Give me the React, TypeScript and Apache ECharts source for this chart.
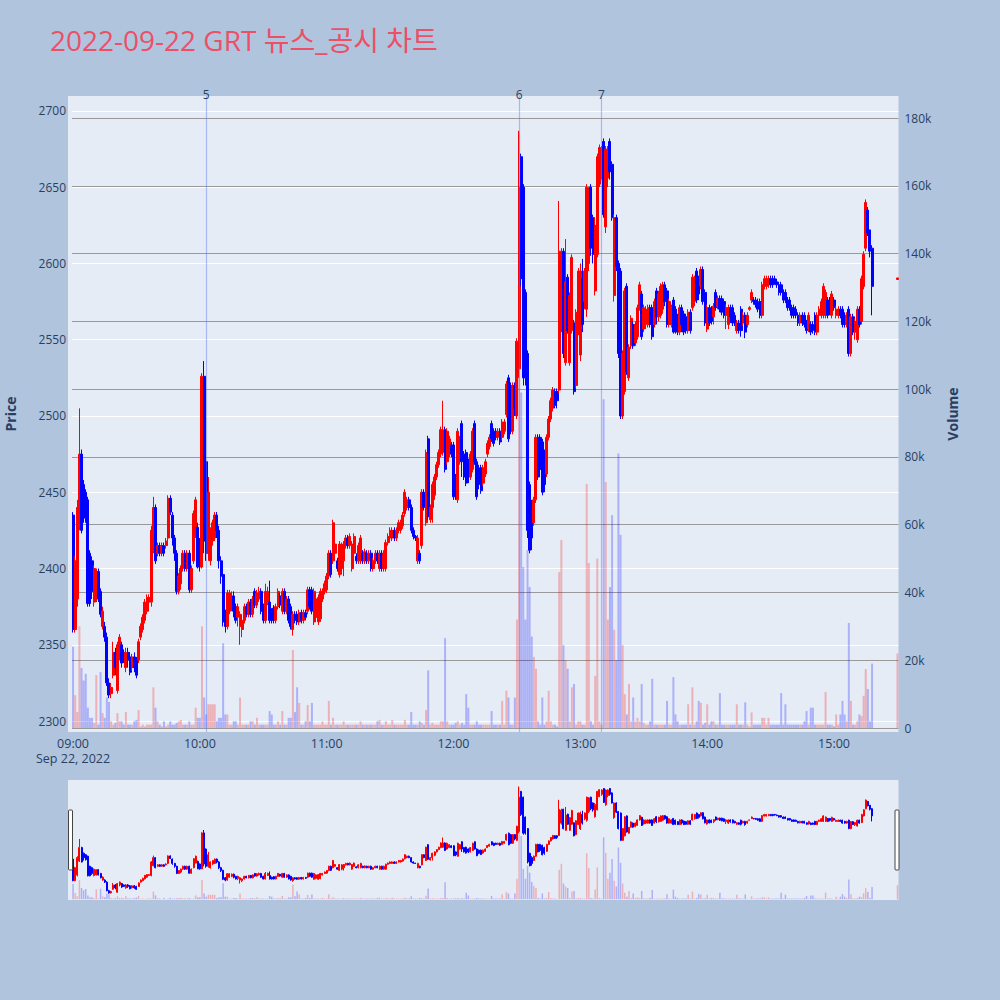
import React, { useEffect, useRef } from "react";
import * as echarts from "echarts";

const TITLE = "2022-09-22 GRT 뉴스_공시 차트";
const DATE_LABEL = "Sep 22, 2022";
const SESSION_START = "09:00";
const SESSION_END = "15:30";

// one row per minute from 09:00: [open, close, low, high, volume (k)]
const h09 = [
  [2435,2360,2358,2437,24],[2360,2405,2358,2408,9.7],[2380,2440,2375,2445,4.7],[2428,2475,2425,2505,30],[2475,2425,2423,2478,17.7],
  [2455,2440,2430,2458,14],[2450,2433,2430,2452,16],[2445,2377,2375,2447,6],[2410,2377,2375,2412,3],[2405,2385,2380,2408,3],
  [2378,2400,2375,2402,1.5],[2380,2398,2378,2400,15.6],[2398,2380,2378,2400,1],[2385,2370,2368,2387,16.5],[2362,2372,2360,2375,4.4],
  [2362,2355,2352,2365,3],[2355,2325,2323,2358,9],[2325,2317,2315,2328,7.7],[2318,2322,2315,2325,2],[2330,2345,2328,2352,1],
  [2345,2335,2330,2348,1.5],[2320,2350,2318,2352,4.4],[2345,2355,2340,2357,2],[2350,2338,2335,2352,2],[2345,2340,2338,2347,1],
  [2335,2345,2332,2348,4.7],[2345,2340,2335,2348,1],[2342,2332,2330,2345,1],[2335,2342,2333,2344,1],[2342,2335,2332,2345,2],
  [2340,2330,2328,2342,2.4],[2340,2352,2338,2354,5.3],[2355,2362,2353,2364,0.5],[2360,2368,2358,2370,1],[2366,2378,2364,2380,0.5],
  [2372,2381,2370,2383,1],[2378,2381,2376,2383,1],[2378,2425,2375,2428,1],[2412,2440,2410,2447,12],[2440,2405,2403,2442,6],
  [2410,2415,2408,2417,2],[2415,2410,2408,2417,1],[2410,2415,2408,2417,0.5],[2415,2410,2408,2417,2],[2415,2418,2413,2420,0.5],
  [2420,2446,2418,2448,1],[2446,2437,2435,2448,2],[2435,2420,2415,2437,1],[2420,2410,2405,2422,1],[2410,2385,2383,2412,1.5],
  [2385,2395,2383,2397,2],[2390,2400,2386,2402,2.4],[2400,2410,2398,2412,1],[2410,2400,2398,2412,1],[2400,2410,2398,2412,1],
  [2410,2386,2384,2412,2],[2386,2400,2384,2402,1],[2405,2436,2403,2438,1],[2421,2445,2420,2447,6],[2427,2401,2400,2430,3],
];
const h10 = [
  [2418,2401,2398,2420,3],[2401,2526,2400,2528,30],[2526,2418,2410,2536,9],[2470,2410,2405,2472,4],[2410,2450,2405,2460,7],
  [2405,2425,2402,2427,7],[2418,2430,2415,2432,7],[2420,2435,2418,2437,7],[2435,2425,2420,2437,2],[2425,2405,2400,2428,3],
  [2405,2395,2390,2408,3],[2396,2365,2362,2398,25],[2370,2362,2358,2373,4],[2362,2384,2360,2386,4],[2372,2384,2370,2386,1],
  [2375,2382,2372,2385,1],[2382,2372,2368,2385,2],[2375,2366,2364,2377,2],[2368,2375,2362,2377,1],[2362,2370,2350,2372,9],
  [2360,2366,2355,2368,1],[2366,2375,2364,2377,1],[2375,2370,2368,2377,1],[2370,2378,2368,2380,1],[2378,2370,2368,2380,2],
  [2370,2380,2368,2382,2],[2385,2376,2374,2387,1],[2376,2384,2374,2386,3],[2380,2385,2378,2388,1],[2385,2372,2370,2387,1],
  [2375,2366,2364,2377,1],[2366,2385,2364,2390,1],[2378,2385,2376,2388,1],[2378,2366,2364,2392,5],[2372,2366,2364,2374,4],
  [2374,2366,2364,2376,1],[2366,2375,2364,2377,1],[2375,2385,2373,2387,2],[2382,2376,2374,2384,1],[2372,2385,2370,2387,5],
  [2385,2372,2370,2387,1],[2372,2380,2370,2382,1],[2380,2366,2364,2382,3],[2375,2362,2360,2377,3],[2360,2370,2356,2372,23],
  [2370,2366,2364,2372,4.7],[2370,2365,2363,2372,12],[2365,2371,2363,2373,7.4],[2371,2366,2364,2373,1],[2366,2371,2364,2373,1],
  [2371,2368,2366,2373,2],[2372,2386,2370,2388,6.8],[2386,2375,2373,2388,2],[2386,2372,2370,2388,7.4],[2365,2385,2363,2387,1],
  [2368,2380,2365,2382,1],[2365,2381,2363,2383,1],[2367,2385,2365,2387,1],[2380,2385,2378,2387,2],[2385,2390,2383,2392,1],
];
const h11 = [
  [2386,2395,2384,2397,1],[2395,2410,2393,2412,8],[2410,2396,2394,2412,1],[2405,2430,2403,2432,3],[2410,2416,2408,2418,1],
  [2405,2400,2398,2407,1],[2396,2416,2394,2418,1],[2400,2415,2396,2417,1],[2405,2416,2395,2418,2],[2415,2420,2413,2422,1],
  [2420,2415,2413,2422,1],[2415,2421,2413,2423,1],[2400,2416,2398,2418,1],[2410,2421,2408,2423,1],[2408,2405,2403,2410,1],
  [2405,2415,2403,2417,1],[2405,2420,2403,2422,2],[2410,2405,2403,2412,1],[2405,2411,2403,2413,1],[2410,2405,2403,2412,1],
  [2405,2410,2403,2412,1],[2410,2400,2398,2412,1],[2400,2405,2398,2407,1],[2405,2410,2403,2412,1],[2410,2405,2403,2412,2],
  [2400,2410,2398,2412,2.4],[2410,2400,2398,2412,1],[2400,2410,2398,2412,1],[2400,2417,2398,2419,2],[2417,2421,2415,2423,1],
  [2420,2425,2418,2427,1],[2420,2425,2418,2427,2.4],[2425,2420,2418,2427,1],[2420,2425,2418,2427,1],[2425,2430,2423,2432,1],
  [2425,2430,2423,2432,1],[2428,2435,2426,2437,1],[2436,2450,2434,2452,2.4],[2440,2445,2438,2447,1],[2445,2440,2438,2447,1],
  [2440,2425,2423,2442,4.7],[2425,2421,2419,2427,1],[2421,2420,2418,2422,1],[2405,2420,2403,2422,1],[2410,2405,2403,2412,2],
  [2415,2450,2413,2452,1.5],[2450,2440,2438,2452,1],[2430,2476,2428,2478,5.3],[2485,2434,2432,2487,17],[2432,2440,2430,2442,1],
  [2440,2455,2430,2457,1.5],[2448,2460,2445,2462,1],[2460,2468,2458,2470,1],[2468,2476,2466,2478,1],[2475,2491,2473,2493,2],
  [2476,2491,2474,2510,2],[2491,2465,2463,2493,26.5],[2470,2490,2468,2492,2],[2475,2485,2473,2487,1],[2481,2475,2473,2483,1],
];
const h12 = [
  [2481,2447,2445,2483,1],[2460,2450,2445,2462,1.5],[2445,2490,2443,2492,2],[2470,2485,2468,2487,1],[2495,2470,2460,2497,1.5],
  [2475,2460,2458,2477,1],[2476,2456,2454,2478,10],[2470,2460,2456,2472,6],[2460,2475,2458,2477,1],[2465,2490,2463,2492,1],
  [2495,2470,2468,2497,1],[2470,2447,2445,2472,2],[2466,2455,2452,2468,1],[2466,2451,2449,2468,1],[2456,2466,2454,2468,1],
  [2462,2470,2460,2472,1],[2475,2482,2473,2484,1],[2480,2486,2478,2488,1],[2495,2485,2483,2497,5],[2490,2482,2480,2492,1],
  [2490,2486,2484,2492,1],[2486,2490,2484,2492,1],[2490,2483,2481,2492,1],[2486,2496,2484,2498,8],[2490,2496,2488,2498,1],
  [2501,2521,2499,2523,11],[2525,2485,2483,2527,9],[2520,2490,2488,2522,1],[2490,2520,2488,2522,1],[2520,2505,2500,2522,9],
  [2500,2549,2498,2551,32],[2531,2650,2525,2687,176],[2670,2590,2585,2672,99],[2650,2525,2520,2652,47.5],[2581,2525,2520,2583,32],
  [2541,2425,2420,2543,52.5],[2455,2412,2410,2457,41.6],[2440,2420,2412,2445,27],[2430,2445,2428,2447,21],[2445,2486,2443,2488,17.5],
  [2486,2460,2458,2488,2],[2486,2465,2460,2488,1],[2483,2450,2448,2485,9],[2475,2455,2450,2478,1],[2462,2486,2460,2488,2],
  [2486,2498,2484,2500,11],[2498,2510,2496,2512,2],[2505,2517,2503,2519,1],[2516,2507,2505,2518,1],[2516,2510,2505,2518,0.5],
  [2517,2608,2515,2641,46],[2560,2605,2555,2610,55.5],[2608,2541,2538,2610,24.5],[2535,2588,2533,2616,20],[2591,2556,2554,2593,17.5],
  [2535,2579,2533,2581,2],[2556,2604,2554,2606,12],[2561,2516,2514,2563,13],[2520,2568,2518,2570,1],[2555,2595,2553,2597,2],
];
const h13 = [
  [2540,2595,2536,2600,2],[2590,2560,2555,2603,1],[2575,2595,2570,2597,1],[2570,2650,2565,2652,72],[2600,2648,2595,2650,48.7],
  [2650,2610,2605,2652,2],[2630,2606,2600,2632,1],[2582,2625,2579,2630,15.4],[2606,2670,2604,2672,50],[2652,2676,2650,2678,2],
  [2660,2675,2655,2677,1],[2680,2632,2630,2682,97],[2624,2675,2620,2677,72.6],[2656,2675,2650,2677,32],[2680,2660,2655,2682,41.6],
  [2665,2630,2628,2667,62.8],[2579,2630,2575,2632,29],[2630,2598,2595,2632,20],[2600,2541,2538,2602,81],[2595,2500,2498,2597,57],
  [2500,2541,2498,2543,24.5],[2516,2582,2514,2584,10],[2585,2529,2527,2587,4],[2525,2545,2523,2547,13],[2546,2564,2544,2566,2],
  [2560,2546,2544,2562,9],[2548,2560,2546,2562,2],[2552,2571,2550,2573,3],[2571,2586,2569,2588,2],[2580,2552,2550,2582,13],
  [2557,2571,2555,2573,1.5],[2560,2570,2557,2572,1],[2560,2571,2558,2573,1],[2571,2560,2558,2573,2],[2571,2552,2550,2573,14.5],
  [2560,2575,2558,2577,1],[2582,2565,2560,2584,1],[2565,2580,2562,2582,1],[2566,2585,2564,2587,1],[2570,2586,2567,2588,1],
  [2586,2575,2572,2588,1],[2582,2560,2558,2584,8],[2560,2575,2558,2577,1],[2560,2571,2558,2573,1],[2576,2555,2554,2578,15],
  [2570,2556,2554,2572,4],[2565,2555,2553,2567,2],[2555,2571,2553,2573,1],[2571,2560,2555,2573,1],[2567,2555,2553,2569,1],
  [2565,2556,2554,2567,1],[2556,2568,2554,2570,7],[2568,2556,2554,2570,1],[2571,2591,2569,2593,12],[2575,2590,2572,2592,1],
  [2595,2576,2574,2597,2],[2590,2580,2576,2592,8],[2585,2596,2583,2598,7.4],[2596,2575,2573,2598,1],[2581,2561,2559,2583,1.5],
];
const h14 = [
  [2557,2571,2555,2573,7],[2571,2561,2559,2573,1],[2570,2562,2560,2572,2],[2565,2572,2560,2574,2],[2581,2571,2569,2583,1],
  [2572,2577,2570,2579,1],[2577,2570,2568,2579,10.3],[2577,2568,2566,2579,1],[2575,2566,2564,2577,1],[2566,2571,2557,2573,1],
  [2560,2571,2557,2573,1],[2571,2565,2561,2573,1],[2571,2561,2559,2573,1],[2566,2561,2559,2568,1],[2556,2561,2554,2563,7],
  [2561,2556,2554,2563,1],[2570,2556,2552,2572,1],[2561,2566,2559,2568,1],[2566,2555,2551,2568,7.6],[2560,2566,2558,2568,1],
  [2570,2571,2569,2572,0.5],[2576,2581,2574,2583,4.6],[2576,2575,2573,2578,1],[2576,2573,2571,2578,1],[2575,2570,2568,2577,1],
  [2575,2566,2564,2577,1],[2566,2586,2564,2588,3],[2585,2590,2583,2592,3],[2585,2590,2583,2592,1],[2586,2590,2584,2592,3],
  [2590,2586,2584,2592,1],[2590,2586,2584,2592,1],[2590,2588,2586,2592,1],[2588,2586,2584,2590,1],[2586,2581,2579,2588,1],
  [2586,2581,2579,2588,10.3],[2581,2576,2574,2583,1],[2581,2576,2574,2583,7],[2576,2571,2569,2578,1],[2576,2571,2569,2578,1],
  [2571,2566,2564,2573,1],[2571,2566,2564,2573,1],[2570,2566,2564,2572,1],[2566,2561,2559,2568,1],[2561,2566,2559,2568,1],
  [2566,2561,2559,2568,1],[2566,2560,2558,2568,2],[2561,2556,2554,2563,5],[2557,2566,2555,2568,1],[2560,2555,2553,2562,6],
  [2560,2556,2554,2562,6],[2566,2555,2553,2568,1],[2555,2566,2553,2568,1],[2566,2570,2564,2572,1],[2566,2575,2564,2577,1],
  [2566,2585,2564,2587,1],[2566,2581,2564,2583,10.6],[2576,2566,2564,2578,1],[2576,2570,2566,2578,1],[2566,2580,2564,2582,1],
];
const h15 = [
  [2576,2571,2569,2578,0.5],[2566,2570,2564,2572,4],[2566,2570,2564,2572,1],[2570,2566,2564,2572,4],[2570,2560,2558,2572,8],
  [2566,2560,2558,2568,4],[2560,2566,2558,2568,2],[2570,2541,2539,2572,31],[2541,2565,2539,2567,8],[2565,2555,2553,2567,1],
  [2555,2562,2550,2564,1],[2550,2570,2548,2572,2],[2570,2560,2558,2572,4],[2562,2590,2560,2592,3.5],[2585,2606,2583,2608,9.5],
  [2610,2640,2608,2642,17.4],[2635,2620,2618,2637,11.5],[2622,2608,2604,2622,2],[2610,2585,2566,2612,19],
];
// closing single-price auction print
const closeTime = "15:30";
const closeBar = [2589.5, 2590.5, 2589.5, 2590.5, 22];

// news / disclosure markers
const eventNames = ["5", "6", "7"];
const eventTimes = ["10:03", "12:31", "13:10"];

const priceMin = 2292.8;
const priceMax = 2709.8;
const volMin = -1.18;
const volMax = 186.5;

const UP = "#ff0000";
const DOWN = "#0000ff";
const UP_VOL = "rgba(255,0,0,0.25)";
const DOWN_VOL = "rgba(0,0,255,0.25)";
const TEXT = "#2a3f5f";
const FONT = '"Open Sans", verdana, arial, sans-serif';

function toMin(t: string) {
  const [h, m] = t.split(":").map(Number);
  return h * 60 + m;
}
function fmt(m: number) {
  return `${String(Math.floor(m / 60)).padStart(2, "0")}:${String(m % 60).padStart(2, "0")}`;
}

function buildOption() {
  const start = toMin(SESSION_START);
  const end = toMin(SESSION_END);
  const times: string[] = [];
  for (let m = start; m <= end; m++) times.push(fmt(m));
  const rows = [...h09, ...h10, ...h11, ...h12, ...h13, ...h14, ...h15];
  const candles: any[] = [];
  const vols: any[] = [];
  times.forEach((t, i) => {
    let r: number[] | null = null;
    if (i < rows.length) r = rows[i];
    else if (t === closeTime) r = closeBar;
    if (!r) {
      candles.push("-");
      vols.push("-");
      return;
    }
    candles.push([r[0], r[1], r[2], r[3]]);
    vols.push({ value: r[4], itemStyle: { color: r[1] >= r[0] ? UP_VOL : DOWN_VOL } });
  });

  const left = 72;
  const right = 1000 - 898.5;
  const candleStyle = { color: UP, color0: DOWN, borderColor: UP, borderColor0: DOWN, borderWidth: 1 };

  return {
    animation: false,
    backgroundColor: "#B0C4DE",
    title: {
      text: TITLE,
      left: 45,
      top: 21,
      textStyle: { color: "#EB5067", fontSize: 28, fontWeight: "normal", fontFamily: '"Open Sans", "Noto Sans CJK KR", sans-serif' },
    },
    graphic: [
      { type: "rect", z: -100, silent: true, shape: { x: 68, y: 96, width: 830.5, height: 636 }, style: { fill: "#E5ECF6" } },
      { type: "rect", z: -100, silent: true, shape: { x: 68, y: 780, width: 830.5, height: 120 }, style: { fill: "#E5ECF6" } },
      { type: "rect", z: 100, silent: true, shape: { x: 68.5, y: 810, width: 4, height: 60, r: 1 }, style: { fill: "#ffffff", stroke: "#444", lineWidth: 1 } },
      { type: "rect", z: 100, silent: true, shape: { x: 895, y: 810, width: 4, height: 60, r: 1 }, style: { fill: "#ffffff", stroke: "#444", lineWidth: 1 } },
    ],
    grid: [
      { left, right, top: 96, height: 636, containLabel: false, outerBoundsMode: "none" },
      { left, right, top: 780, height: 120, containLabel: false, outerBoundsMode: "none" },
    ],
    xAxis: [
      {
        type: "category",
        gridIndex: 0,
        data: times,
        axisLine: { show: false },
        axisTick: { show: false },
        splitLine: { show: false },
        axisLabel: {
          interval: (_i: number, v: string) => v.endsWith(":00"),
          formatter: (v: string) => (v === SESSION_START ? `${v}\n${DATE_LABEL}` : v),
          color: TEXT,
          fontSize: 12.5,
          fontFamily: FONT,
          margin: 4,
          lineHeight: 15,
        },
      },
      { type: "category", gridIndex: 1, data: times, show: false },
    ],
    yAxis: [
      {
        type: "value",
        gridIndex: 0,
        min: priceMin,
        max: priceMax,
        minInterval: 50,
        maxInterval: 50,
        splitNumber: 8,
        name: "Price",
        nameLocation: "middle",
        nameRotate: 90,
        nameGap: 55,
        nameTextStyle: { color: TEXT, fontSize: 14, fontWeight: "bold", fontFamily: FONT },
        axisLine: { show: false },
        axisTick: { show: false },
        axisLabel: {
          color: TEXT,
          fontSize: 12,
          fontFamily: FONT,
          margin: 6,
          showMinLabel: false,
          showMaxLabel: false,
          formatter: (v: number) => String(v),
        },
        splitLine: { show: true, showMinLine: false, showMaxLine: false, lineStyle: { color: "#ffffff", width: 1 } },
      },
      {
        type: "value",
        gridIndex: 0,
        position: "right",
        min: volMin,
        max: volMax,
        minInterval: 20,
        maxInterval: 20,
        splitNumber: 9,
        name: "Volume",
        nameLocation: "middle",
        nameRotate: 90,
        nameGap: 47,
        nameTextStyle: { color: TEXT, fontSize: 14, fontWeight: "bold", fontFamily: FONT },
        axisLine: { show: false },
        axisTick: { show: false },
        axisLabel: {
          color: TEXT,
          fontSize: 12,
          fontFamily: FONT,
          margin: 6,
          showMinLabel: false,
          showMaxLabel: false,
          formatter: (v: number) => (v === 0 ? "0" : `${v}k`),
        },
        splitLine: { show: true, showMinLine: false, showMaxLine: false, lineStyle: { color: "#999999", width: 1.2 } },
      },
      { type: "value", gridIndex: 1, min: priceMin, max: priceMax, show: false, splitLine: { show: false } },
      { type: "value", gridIndex: 1, min: volMin, max: volMax, show: false, splitLine: { show: false } },
    ],
    series: [
      {
        type: "bar",
        name: "vol",
        xAxisIndex: 0,
        yAxisIndex: 1,
        barWidth: 2,
        data: vols,
        z: 1,
        silent: true,
        markLine: {
          silent: true,
          symbol: ["none", "none"],
          lineStyle: { color: "rgba(90,120,240,0.45)", width: 1.2, type: "solid" },
          label: { show: true, position: "end", formatter: "{b}", color: TEXT, fontSize: 12, fontFamily: FONT, distance: -4 },
          data: eventTimes.map((t, i) => ({ name: eventNames[i], xAxis: t })),
        },
      },
      {
        type: "candlestick",
        name: "price",
        xAxisIndex: 0,
        yAxisIndex: 0,
        barWidth: 2.5,
        data: candles,
        itemStyle: candleStyle,
        z: 3,
        silent: true,
      },
      {
        type: "bar",
        xAxisIndex: 1,
        yAxisIndex: 3,
        barWidth: 1.5,
        data: vols,
        z: 1,
        silent: true,
      },
      {
        type: "candlestick",
        xAxisIndex: 1,
        yAxisIndex: 2,
        barWidth: 1.5,
        data: candles,
        itemStyle: candleStyle,
        z: 3,
        silent: true,
      },
    ],
  };
}

export default function App() {
  const ref = useRef<HTMLDivElement>(null);
  useEffect(() => {
    if (!ref.current) return;
    const chart = echarts.init(ref.current, null, { renderer: "svg" });
    chart.setOption(buildOption() as any);
    return () => chart.dispose();
  }, []);
  return <div ref={ref} style={{ position: "absolute", left: 0, top: 0, width: 1000, height: 1000 }} />;
}
